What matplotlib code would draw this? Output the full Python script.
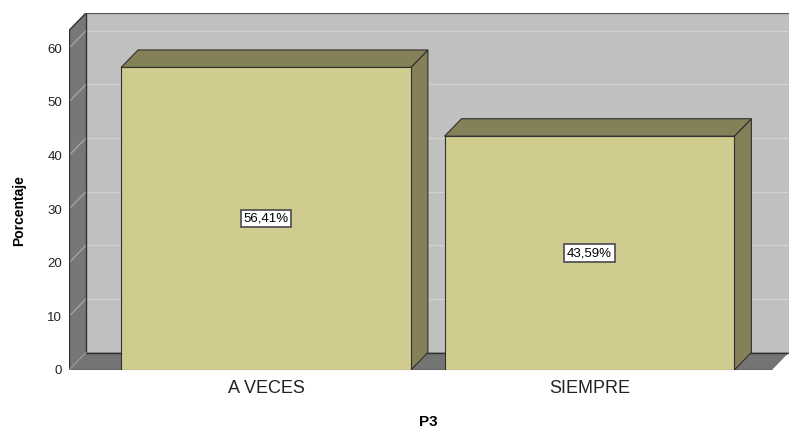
import matplotlib.pyplot as plt
from matplotlib.patches import Polygon, Rectangle

categorias = ["A VECES", "SIEMPRE"]
porcentajes = [56.41, 43.59]
etiquetas = [f"{v:.2f}".replace(".", ",") + "%" for v in porcentajes]
yticks = [0, 10, 20, 30, 40, 50, 60]

plt.rcParams["font.family"] = ["Liberation Sans", "DejaVu Sans"]

fig = plt.figure(figsize=(7.89, 4.30), dpi=100)
ax = fig.add_axes([69 / 789, 60 / 430, 720 / 789, 357 / 430])

# ejes en unidades de datos
x0, xmax = -0.609, 1.617
dx, dy = 0.0526, 3.26
ytop = 63.3
ax.set_xlim(x0, xmax)
ax.set_ylim(0, ytop + dy)
xfr = xmax - dx
ancho = 0.896

pared = "#c0c0c0"
lateral = "#777777"
suelo = "#747474"
borde = "#303030"

# pared del fondo, pared izquierda y suelo
ax.add_patch(Polygon([(x0 + dx, dy), (xmax, dy), (xmax, ytop + dy), (x0 + dx, ytop + dy)],
                     closed=True, facecolor=pared, edgecolor="none", zorder=0))
ax.add_patch(Polygon([(x0, 0), (x0 + dx, dy), (x0 + dx, ytop + dy), (x0, ytop)],
                     closed=True, facecolor=lateral, edgecolor="none", zorder=0))
ax.add_patch(Polygon([(x0, 0), (xfr, 0), (xmax, dy), (x0 + dx, dy)],
                     closed=True, facecolor=suelo, edgecolor="none", zorder=0))

# lineas de cuadricula
for v in yticks[1:]:
    ax.plot([x0, x0 + dx], [v, v + dy], color="#a8a8a8", lw=0.9, zorder=1)
    ax.plot([x0 + dx, xmax], [v + dy, v + dy], color="#d2d2d2", lw=0.9, zorder=1)

# bordes
k = dict(color=borde, lw=1.0, zorder=2, solid_capstyle="butt")
ax.plot([x0, x0], [0, ytop], **k)
ax.plot([x0, x0 + dx], [ytop, ytop + dy], **k)
ax.plot([x0 + dx, xmax], [ytop + dy, ytop + dy], color="#555555", lw=1.6, zorder=2)
ax.plot([x0 + dx, x0 + dx], [dy, ytop + dy], **k)
ax.plot([x0 + dx, xmax], [dy, dy], **k)
ax.plot([x0, x0 + dx], [0, dy], color="#999999", lw=0.8, zorder=2)
ax.plot([x0, xfr], [0, 0], **k)

# barras 3D
frente = "#d0cb8f"
cara = "#848057"
for i, v in enumerate(porcentajes):
    l = i - ancho / 2
    r = i + ancho / 2
    ax.add_patch(Polygon([(r, 0), (r + dx, dy), (r + dx, v + dy), (r, v)], closed=True,
                         facecolor=cara, edgecolor=borde, lw=0.8, zorder=3))
    ax.add_patch(Polygon([(l, v), (l + dx, v + dy), (r + dx, v + dy), (r, v)], closed=True,
                         facecolor=cara, edgecolor=borde, lw=0.8, zorder=3))
    ax.add_patch(Rectangle((l, 0), ancho, v, facecolor=frente, edgecolor=borde,
                           lw=0.8, zorder=4))
    ax.text(i, v / 2, etiquetas[i], ha="center", va="center", fontsize=9.5, zorder=5,
            bbox=dict(boxstyle="square,pad=0.2", facecolor="white",
                      edgecolor="#555555", lw=1.3))

for s in ax.spines.values():
    s.set_visible(False)
ax.patch.set_visible(False)

ax.set_yticks(yticks)
ax.set_xticks(range(len(categorias)))
ax.set_xticklabels(categorias, fontsize=13, color="#222222")
ax.tick_params(axis="y", length=0, pad=5, labelsize=9.5, labelcolor="#222222")
ax.tick_params(axis="x", length=0, pad=7)

fig.text(428 / 789, 1 - 422 / 430, "P3", ha="center", va="center",
         fontsize=11, fontweight="bold")
fig.text(19 / 789, 1 - 211 / 430, "Porcentaje", ha="center", va="center",
         rotation=90, fontsize=10, fontweight="bold")

fig.savefig("out.png", dpi=100)
